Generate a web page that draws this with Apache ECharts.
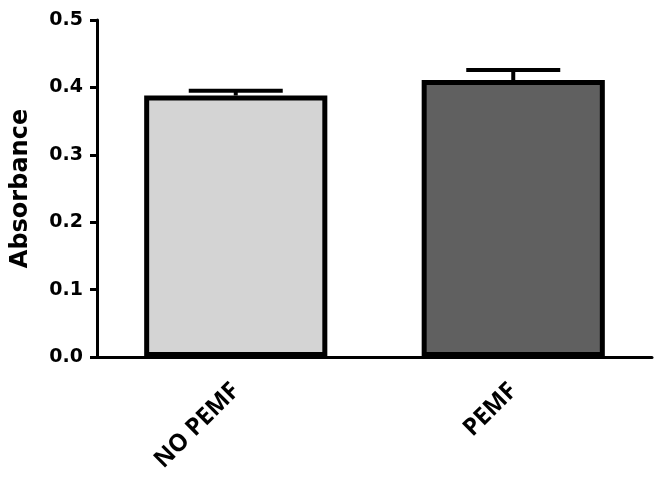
<!DOCTYPE html>
<html>
<head>
<meta charset="utf-8">
<script src="https://cdn.jsdelivr.net/npm/echarts@6/dist/echarts.min.js"></script>
<style>
  html, body { margin: 0; padding: 0; background: #fff; }
  #bar-chart { width: 661px; height: 479px; }
</style>
</head>
<body>
<div id="bar-chart"></div>
<script>
var groups = ['NO PEMF', 'PEMF'];
var absorbance = [0.388, 0.411];
var sem = [0.007, 0.015];
var barColors = ['#d4d4d4', '#606060'];
var yTicks = [0, 0.1, 0.2, 0.3, 0.4, 0.5];

var chart = echarts.init(document.getElementById('bar-chart'));

var option = {
    animation: false,
    grid: { left: 97, right: 9, top: 20, bottom: 122 },
    xAxis: {
        type: 'category',
        data: groups,
        axisLine: { lineStyle: { color: '#000', width: 3 } },
        axisTick: { alignWithLabel: true, length: 10, lineStyle: { color: '#000', width: 3 } },
        axisLabel: {
            rotate: 45,
            margin: 30,
            color: '#000',
            fontFamily: 'Open Sans',
            fontWeight: 'bold',
            fontSize: 24
        }
    },
    yAxis: {
        type: 'value',
        min: yTicks[0],
        max: yTicks[yTicks.length - 1],
        interval: 0.1,
        name: 'Absorbance',
        nameLocation: 'middle',
        nameRotate: 90,
        nameGap: 64,
        nameTextStyle: {
            color: '#000',
            fontFamily: 'DejaVu Sans',
            fontWeight: 'bold',
            fontSize: 24
        },
        splitLine: { show: false },
        axisLine: { show: true, lineStyle: { color: '#000', width: 3 } },
        axisTick: { show: true, length: 7, lineStyle: { color: '#000', width: 3 } },
        axisLabel: {
            margin: 14,
            color: '#000',
            fontFamily: 'DejaVu Sans',
            fontWeight: 'bold',
            fontSize: 19,
            formatter: function (v) { return v.toFixed(1); }
        }
    },
    series: [
        {
            type: 'bar',
            barWidth: '66%',
            data: absorbance.map(function (v, i) {
                return {
                    value: v,
                    itemStyle: { color: barColors[i], borderColor: '#000', borderWidth: 5 }
                };
            })
        },
        {
            // one-sided error bars (mean + SEM)
            type: 'custom',
            data: absorbance.map(function (v, i) { return [i, v, v + sem[i]]; }),
            renderItem: function (params, api) {
                var base = api.coord([api.value(0), api.value(1)]);
                var top = api.coord([api.value(0), api.value(2)]);
                var half = 47;
                var style = { stroke: '#000', lineWidth: 4 };
                return {
                    type: 'group',
                    children: [
                        { type: 'line', shape: { x1: top[0], y1: base[1], x2: top[0], y2: top[1] }, style: style },
                        { type: 'line', shape: { x1: top[0] - half, y1: top[1], x2: top[0] + half, y2: top[1] }, style: style }
                    ]
                };
            },
            z: 3
        }
    ]
};

chart.setOption(option);
</script>
</body>
</html>
